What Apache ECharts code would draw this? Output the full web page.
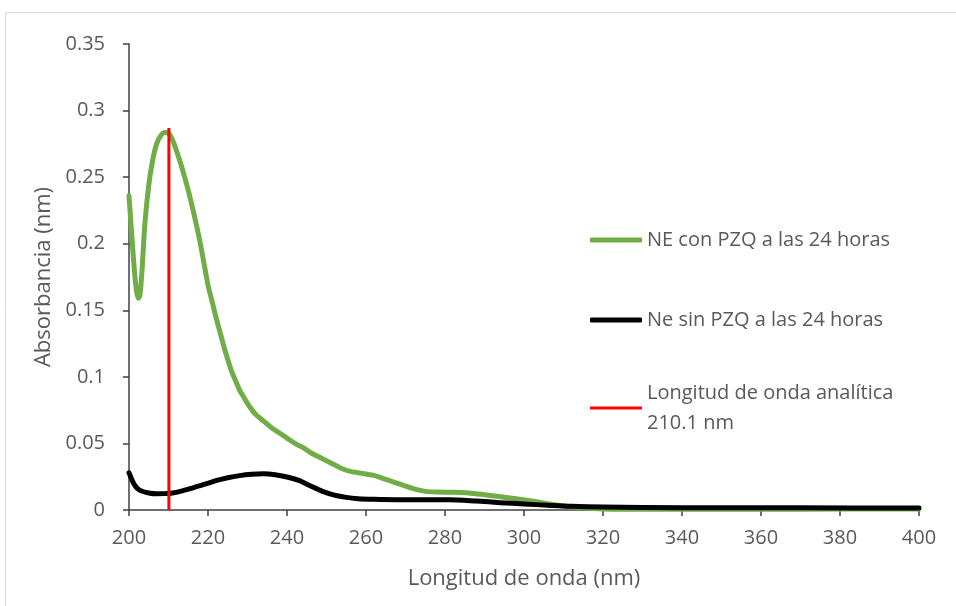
<!DOCTYPE html>
<html>
<head>
<meta charset="utf-8">
<script src="https://cdn.jsdelivr.net/npm/echarts@6/dist/echarts.min.js"></script>
<style>
  html, body { margin: 0; padding: 0; background: #fff; }
  #chart { width: 956px; height: 606px; }
</style>
</head>
<body>
<div id="chart"></div>
<script>
// Absorbance spectra (wavelength in nm, absorbance)
const greenWavelengths = [200, 201, 201.6, 202, 202.4, 202.8, 203.3, 204, 205, 206, 207, 208, 209, 210, 211, 212, 213, 214, 215, 216, 217, 218, 219, 220, 221, 222, 223, 224, 225, 226, 227, 228, 229, 230, 232, 234, 236, 238, 240, 242, 244, 246, 248, 250, 252, 254, 256, 258, 260, 262, 264, 266, 268, 270, 272, 275, 278, 282, 286, 290, 294, 298, 302, 306, 310, 315, 320, 330, 340, 360, 380, 400];
const greenValues = [0.236, 0.194, 0.172, 0.163, 0.159, 0.162, 0.180, 0.214, 0.244, 0.263, 0.275, 0.281, 0.2835, 0.283, 0.278, 0.270, 0.261, 0.251, 0.240, 0.228, 0.215, 0.201, 0.185, 0.169, 0.157, 0.145, 0.134, 0.123, 0.113, 0.104, 0.097, 0.090, 0.085, 0.080, 0.072, 0.067, 0.062, 0.058, 0.054, 0.050, 0.047, 0.043, 0.040, 0.037, 0.034, 0.031, 0.029, 0.028, 0.027, 0.026, 0.024, 0.022, 0.020, 0.018, 0.016, 0.014, 0.0135, 0.0133, 0.0128, 0.0115, 0.010, 0.0085, 0.0068, 0.0048, 0.003, 0.0015, 0.0008, 0.0005, 0.0005, 0.0006, 0.0007, 0.0008];

const blackWavelengths = [200, 201, 202, 203, 205, 207, 209, 211, 213, 216, 219, 222, 225, 228, 231, 234, 237, 240, 243, 246, 249, 252, 255, 258, 262, 268, 275, 281, 288, 294, 300, 306, 312, 320, 330, 350, 370, 400];
const blackValues = [0.028, 0.021, 0.0165, 0.0145, 0.0128, 0.0122, 0.0123, 0.0128, 0.0140, 0.0165, 0.0192, 0.0220, 0.0242, 0.0258, 0.0268, 0.0272, 0.0265, 0.0248, 0.0222, 0.0180, 0.0140, 0.0112, 0.0095, 0.0085, 0.0080, 0.0077, 0.0077, 0.0077, 0.0067, 0.0055, 0.0045, 0.0036, 0.0028, 0.0022, 0.0019, 0.0017, 0.0016, 0.0015];

// Analytical wavelength marker
const analyticalWavelength = 210.1;
const markerTop = 0.287;

const seriesNames = ['NE con PZQ a las 24 horas', 'Ne sin PZQ a las 24 horas', 'Longitud de onda analítica 210.1 nm'];

const xTicks = { min: 200, max: 400, interval: 20 };
const yTicks = { min: 0, max: 0.35, interval: 0.05 };

const pair = (xs, ys) => xs.map((x, i) => [x, ys[i]]);

const textColor = '#595959';
const axisColor = '#404040';
const fontFamily = '"Open Sans", Lato, sans-serif';

const chart = echarts.init(document.getElementById('chart'), null, { renderer: 'canvas' });

chart.setOption({
  animation: false,
  backgroundColor: '#ffffff',
  textStyle: { fontFamily: fontFamily },
  graphic: [{
    type: 'rect',
    shape: { x: 5.5, y: 12.5, width: 960, height: 610 },
    style: { fill: 'none', stroke: '#d9d9d9', lineWidth: 1 },
    silent: true
  }],
  grid: { left: 129, right: 37, top: 44, bottom: 96 },
  xAxis: {
    type: 'value',
    min: xTicks.min,
    max: xTicks.max,
    interval: xTicks.interval,
    name: 'Longitud de onda (nm)',
    nameLocation: 'middle',
    nameGap: 58,
    nameTextStyle: { color: textColor, fontSize: 22, fontFamily: fontFamily },
    axisLine: { onZero: false, lineStyle: { color: axisColor, width: 1.5 } },
    axisTick: { show: true, length: 6, inside: false, lineStyle: { color: axisColor, width: 1.5 } },
    axisLabel: { color: textColor, fontSize: 20, margin: 18, fontFamily: fontFamily },
    splitLine: { show: false }
  },
  yAxis: {
    type: 'value',
    min: yTicks.min,
    max: yTicks.max,
    interval: yTicks.interval,
    name: 'Absorbancia (nm)',
    nameLocation: 'middle',
    nameGap: 72,
    nameTextStyle: { color: textColor, fontSize: 22, fontFamily: fontFamily },
    axisLine: { show: true, onZero: false, lineStyle: { color: axisColor, width: 1.5 } },
    axisTick: { show: true, length: 6, inside: false, lineStyle: { color: axisColor, width: 1.5 } },
    axisLabel: { color: textColor, fontSize: 20, margin: 24, fontFamily: fontFamily },
    splitLine: { show: false }
  },
  legend: [{
    data: [seriesNames[0], seriesNames[1]],
    orient: 'vertical',
    left: 590,
    top: 229,
    padding: 0,
    icon: 'roundRect',
    itemWidth: 52,
    itemHeight: 5,
    itemGap: 58,
    selectedMode: false,
    textStyle: { color: textColor, fontSize: 20, lineHeight: 22, fontFamily: fontFamily }
  }, {
    data: [seriesNames[2]],
    orient: 'vertical',
    left: 590,
    top: 363,
    padding: 0,
    icon: 'rect',
    itemWidth: 52,
    itemHeight: 3,
    selectedMode: false,
    formatter: name => name.replace(' 210.1', '\n210.1'),
    textStyle: { color: textColor, fontSize: 20, lineHeight: 30, padding: [30, 0, 0, 0], fontFamily: fontFamily }
  }],
  series: [{
    name: seriesNames[0],
    type: 'line',
    data: pair(greenWavelengths, greenValues),
    smooth: 0.3,
    symbol: 'none',
    color: '#70ad47',
    lineStyle: { color: '#70ad47', width: 5, cap: 'round', join: 'round' },
    z: 2
  }, {
    name: seriesNames[1],
    type: 'line',
    data: pair(blackWavelengths, blackValues),
    smooth: 0.3,
    symbol: 'none',
    color: '#000000',
    lineStyle: { color: '#000000', width: 5, cap: 'round', join: 'round' },
    z: 3
  }, {
    name: seriesNames[2],
    type: 'line',
    data: [[analyticalWavelength, 0], [analyticalWavelength, markerTop]],
    symbol: 'none',
    color: '#ff0000',
    lineStyle: { color: '#ff0000', width: 3 },
    z: 4
  }]
});
</script>
</body>
</html>
